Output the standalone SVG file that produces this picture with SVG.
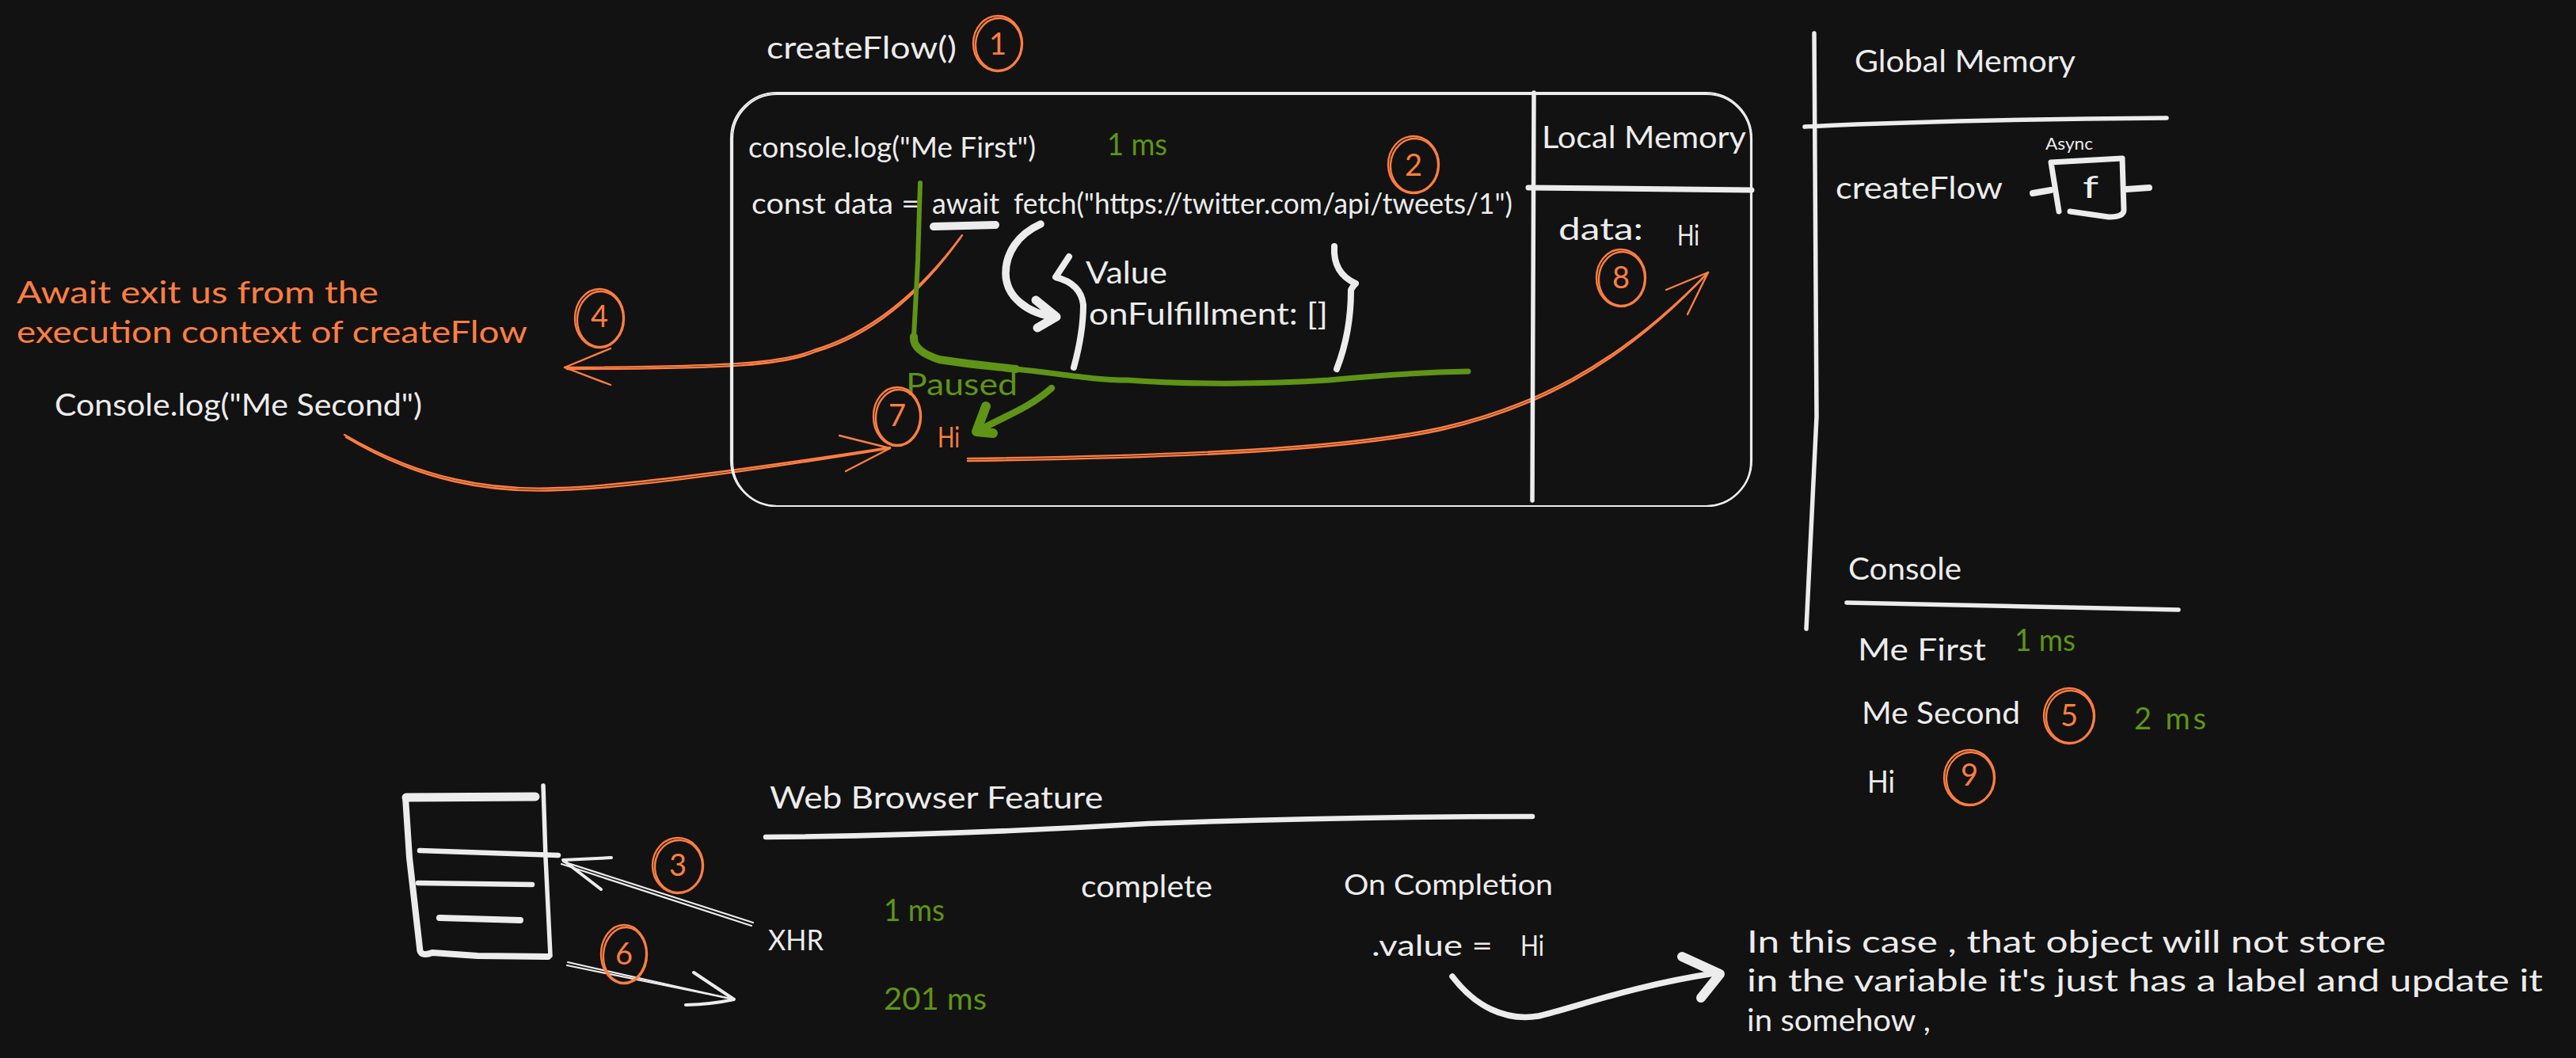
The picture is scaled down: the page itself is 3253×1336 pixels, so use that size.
<svg xmlns="http://www.w3.org/2000/svg" width="3253" height="1336" viewBox="0 0 3253 1336">
<style>
text{font-family:"Lato","Open Sans",sans-serif;font-size:38px;fill:#ececec;stroke:none}
.o{fill:#ff7e42}
.g{fill:#5f9417}
.n{fill:#ff7e42;text-anchor:middle;font-size:38px}
.s{font-size:36px}
.xs{font-size:22px}
path,ellipse,rect{fill:none;stroke-linecap:round;stroke-linejoin:round}
.c{stroke:#ff7e42;stroke-width:2.4}
.w2{stroke:#ececec;stroke-width:2.2}
.w3{stroke:#ececec;stroke-width:4}
.w5{stroke:#ececec;stroke-width:5.5}
.w8{stroke:#ececec;stroke-width:8.5}
.a{stroke:#ff7e42;stroke-width:2.4}
.gl{stroke:#5f9417;stroke-width:7}
</style>
<rect width="3253" height="1336" fill="#121212" style="fill:#121212;stroke:none"/>

<g id="connectors">
<path class="a" d="M1215 297C1150 385 1085 425 1028 442C990 458 925 463 713 464"/>
<path class="a" d="M1213 300C1150 388 1085 428 1030 444C990 461 925 466 716 466"/>
<path class="a" d="M771 440L713 464L771 486"/>
<path class="a" d="M435 549C530 605 620 620 705 616C790 614 960 590 1124 565"/>
<path class="a" d="M437 552C530 608 620 623 705 619C790 617 960 593 1124 566"/>
<path class="a" d="M1060 550L1124 566L1068 595"/>
<path class="a" d="M1222 579C1500 575 1700 566 1820 540C1930 515 2040 465 2157 344"/>
<path class="a" d="M1222 582C1500 578 1700 569 1820 543C1930 518 2042 468 2157 344"/>
<path class="a" d="M2104 366L2157 344L2131 397"/>
<path class="w5" style="stroke-width:9.5" d="M1314 283C1285 296 1270 320 1270 345C1270 375 1298 396 1332 400"/>
<path class="w5" style="stroke-width:11" d="M1308 379L1334 400L1310 414"/>
<path class="gl" style="stroke-width:6" d="M1162 231L1159 330L1154 425"/>
<path class="gl" style="stroke-width:10" d="M1154 425Q1152 443 1186 454C1230 461 1260 463 1283 466"/>
<path class="gl" d="M1283 466C1340 472 1380 480 1423 480C1500 486 1600 485 1678 480C1740 474 1800 470 1854 469"/>
<path class="gl" style="stroke-width:8.5" d="M1328 490C1300 515 1270 525 1241 541"/>
<path class="gl" style="stroke-width:12" d="M1245 513L1233 545L1254 547"/>
<path class="w2" d="M951 1165L711 1088"/>
<path class="w2" d="M949 1169L709 1091"/>
<path class="w3" d="M772 1083L711 1086L759 1123"/>
<path class="w2" d="M717 1215L927 1262"/>
<path class="w2" d="M716 1219L927 1262"/>
<path class="w3" d="M876 1228L927 1262Q900 1268 866 1269"/>
<path class="w5" style="stroke-width:7.5" d="M1834 1233C1862 1270 1900 1290 1943 1283C1990 1272 2060 1245 2165 1229"/>
<path class="w5" style="stroke-width:12" d="M2124 1208L2172 1230L2148 1260"/>
</g>

<g id="createFlow-title"><text x="968" y="74" textLength="240" lengthAdjust="spacingAndGlyphs">createFlow()</text></g>
<g id="badge-1"><ellipse class="c" cx="1260" cy="55" rx="31" ry="35"/><ellipse class="c" cx="1261" cy="56" rx="29" ry="33" transform="rotate(4 1261 56)"/><text class="n" x="1260" y="69">1</text></g>
<g id="execution-context">
<rect class="w2" x="923" y="117" width="1289" height="522" rx="58"/>
<rect class="w2" x="925" y="119" width="1286" height="520" rx="56"/>
<path class="w5" d="M1937 117L1935 632"/>
<path class="w5" style="stroke-width:7" d="M1930 237L2212 240"/>
</g>
<g id="local-memory"><text x="1947" y="187" textLength="258" lengthAdjust="spacingAndGlyphs">Local Memory</text></g>
<g id="line-console"><text class="s" x="945" y="199" textLength="363" lengthAdjust="spacingAndGlyphs">console.log("Me First")</text></g>
<g id="time-1ms"><text class="g" x="1398" y="196" textLength="76" lengthAdjust="spacingAndGlyphs">1 ms</text></g>
<g id="line-fetch"><text class="s" x="949" y="270" textLength="212" lengthAdjust="spacingAndGlyphs">const data =</text><text class="s" x="1177" y="270" textLength="85" lengthAdjust="spacingAndGlyphs">await</text><text class="s" x="1280" y="270" textLength="630" lengthAdjust="spacingAndGlyphs">fetch("https://twitter.com/api/tweets/1")</text></g>
<g id="await-mark"><path class="w8" style="stroke-width:10" d="M1179 286L1257 284"/></g>
<g id="badge-2"><ellipse class="c" cx="1785" cy="208" rx="32" ry="36"/><ellipse class="c" cx="1786" cy="209" rx="30" ry="34" transform="rotate(5 1786 209)"/><text class="n" x="1785" y="222">2</text></g>
<g id="promise-object">
<path class="w5" style="stroke-width:8" d="M1350 324L1333 350Q1365 358 1368 385Q1368 420 1356 464"/>
<path class="w5" style="stroke-width:8" d="M1685 311Q1683 345 1712 358Q1708 362 1706 366Q1706 420 1688 466"/>
<text x="1371" y="358" textLength="103" lengthAdjust="spacingAndGlyphs">Value</text>
<text x="1375" y="410" textLength="302" lengthAdjust="spacingAndGlyphs">onFulfillment: []</text>
</g>
<g id="await-note">
<text class="o" x="21" y="383" textLength="457" lengthAdjust="spacingAndGlyphs">Await exit us from the</text>
<text class="o" x="21" y="433" textLength="645" lengthAdjust="spacingAndGlyphs">execution context of createFlow</text>
</g>
<g id="badge-4"><ellipse class="c" cx="757" cy="402" rx="31" ry="37"/><ellipse class="c" cx="758" cy="403" rx="29" ry="35" transform="rotate(4 758 403)"/><text class="n" x="757" y="413">4</text></g>
<g id="console-second"><text x="69" y="525" textLength="464" lengthAdjust="spacingAndGlyphs">Console.log("Me Second")</text></g>
<g id="paused"><text class="g" x="1144" y="499" textLength="141" lengthAdjust="spacingAndGlyphs">Paused</text></g>
<g id="badge-7"><ellipse class="c" cx="1133" cy="526" rx="30" ry="37"/><ellipse class="c" cx="1134" cy="527" rx="28" ry="35" transform="rotate(4 1134 527)"/><text class="n" x="1133" y="538">7</text></g>
<g id="hi-result"><text class="o s" x="1184" y="565" textLength="28" lengthAdjust="spacingAndGlyphs">Hi</text></g>
<g id="data-var"><text x="1968" y="303" textLength="107" lengthAdjust="spacingAndGlyphs">data:</text><text class="s" x="2118" y="310" textLength="28" lengthAdjust="spacingAndGlyphs">Hi</text></g>
<g id="badge-8"><ellipse class="c" cx="2047" cy="351" rx="31" ry="36"/><ellipse class="c" cx="2048" cy="352" rx="29" ry="34" transform="rotate(4 2048 352)"/><text class="n" x="2047" y="364">8</text></g>

<g id="global-memory">
<path class="w5" d="M2291 42L2294 526L2281 794"/>
<path class="w5" d="M2279 160Q2469 151 2736 149"/>
<text x="2342" y="91" textLength="279" lengthAdjust="spacingAndGlyphs">Global Memory</text>
<text x="2318" y="251" textLength="211" lengthAdjust="spacingAndGlyphs">createFlow</text>
</g>
<g id="function-f">
<text class="xs" x="2583" y="189" textLength="60" lengthAdjust="spacingAndGlyphs">Async</text>
<path class="w5" style="stroke-width:7" d="M2600 267L2590 205L2680 200L2682 265Q2682 274 2663 274L2614 267"/>
<path class="w5" style="stroke-width:8" d="M2567 244L2590 240M2685 239L2714 237"/>
<text x="2630" y="250" textLength="20" lengthAdjust="spacingAndGlyphs">f</text>
</g>
<g id="console-panel">
<text x="2334" y="732" textLength="143" lengthAdjust="spacingAndGlyphs">Console</text>
<path class="w5" d="M2332 761L2751 770"/>
<text x="2346" y="834" textLength="162" lengthAdjust="spacingAndGlyphs">Me First</text>
<text class="g" x="2544" y="822" textLength="77" lengthAdjust="spacingAndGlyphs">1 ms</text>
<text x="2351" y="914" textLength="200" lengthAdjust="spacingAndGlyphs">Me Second</text>
<text class="g" x="2695" y="921" textLength="91" lengthAdjust="spacing">2 ms</text>
<text x="2358" y="1001" textLength="35" lengthAdjust="spacingAndGlyphs">Hi</text>
</g>
<g id="badge-5"><ellipse class="c" cx="2613" cy="904" rx="32" ry="35"/><ellipse class="c" cx="2614" cy="905" rx="30" ry="33" transform="rotate(4 2614 905)"/><text class="n" x="2613" y="917">5</text></g>
<g id="badge-9"><ellipse class="c" cx="2487" cy="982" rx="32" ry="35"/><ellipse class="c" cx="2488" cy="983" rx="30" ry="33" transform="rotate(4 2488 983)"/><text class="n" x="2487" y="992">9</text></g>

<g id="server-stack">
<path class="w8" style="stroke-width:11" d="M513 1007L676 1006"/>
<path class="w5" style="stroke-width:8" d="M512 1007L517 1083L530 1197Q530 1209 546 1203L603 1207L692 1208"/>
<path class="w5" d="M686 992L689 1083L695 1207"/>
<path class="w5" style="stroke-width:6.5" d="M530 1074L705 1080"/>
<path class="w5" style="stroke-width:6.5" d="M528 1115L672 1117"/>
<path class="w5" style="stroke-width:8" d="M555 1159L657 1162"/>
</g>
<g id="badge-3"><ellipse class="c" cx="856" cy="1093" rx="32" ry="35"/><ellipse class="c" cx="857" cy="1094" rx="30" ry="33" transform="rotate(5 857 1094)"/><text class="n" x="856" y="1106">3</text></g>
<g id="badge-6"><ellipse class="c" cx="788" cy="1205" rx="29" ry="37"/><ellipse class="c" cx="789" cy="1206" rx="27" ry="35" transform="rotate(5 789 1206)"/><text class="n" x="788" y="1218">6</text></g>
<g id="xhr"><text class="s" x="970" y="1200" textLength="70" lengthAdjust="spacingAndGlyphs">XHR</text></g>
<g id="time-xhr"><text class="g" x="1116" y="1163" textLength="77" lengthAdjust="spacingAndGlyphs">1 ms</text><text class="g" x="1116" y="1275" textLength="130" lengthAdjust="spacingAndGlyphs">201 ms</text></g>
<g id="web-browser-feature">
<text x="972" y="1021" textLength="421" lengthAdjust="spacingAndGlyphs">Web Browser Feature</text>
<path class="w5" style="stroke-width:6.5" d="M967 1057Q1200 1055 1450 1040Q1700 1031 1935 1031"/>
</g>
<g id="complete"><text x="1365" y="1133" textLength="166" lengthAdjust="spacingAndGlyphs">complete</text></g>
<g id="on-completion"><text class="s" x="1697" y="1130" textLength="264" lengthAdjust="spacingAndGlyphs">On Completion</text><text class="s" x="1732" y="1207" textLength="153" lengthAdjust="spacingAndGlyphs">.value =</text><text class="s" x="1920" y="1207" textLength="30" lengthAdjust="spacingAndGlyphs">Hi</text></g>
<g id="note">
<text x="2206" y="1203" textLength="807" lengthAdjust="spacingAndGlyphs">In this case , that object will not store</text>
<text x="2206" y="1252" textLength="1005" lengthAdjust="spacingAndGlyphs">in the variable it's just has a label and update it</text>
<text x="2206" y="1302" textLength="232" lengthAdjust="spacingAndGlyphs">in somehow ,</text>
</g>
</svg>
